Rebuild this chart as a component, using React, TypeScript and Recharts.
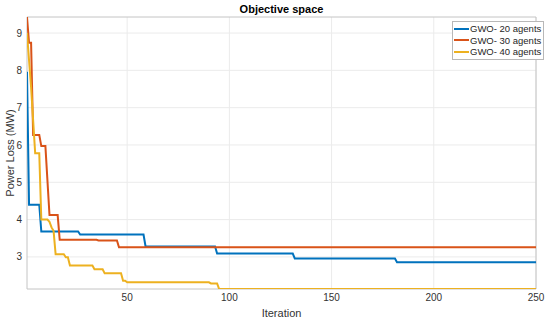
import { Legend, LineChart, Line, XAxis, YAxis, CartesianGrid, ReferenceArea } from 'recharts';

// Convergence curves (iteration -> best power loss in MW)
const iter20 = [1, 2, 7, 8, 26, 27, 58, 59, 93, 94, 131, 132, 181, 182, 250];
const loss20 = [7.96, 4.4, 4.4, 3.68, 3.68, 3.6, 3.6, 3.28, 3.28, 3.09, 3.09, 2.96, 2.96, 2.86, 2.86];

const iter30 = [1, 2, 3, 4, 7, 8, 10, 12, 16, 17, 35, 36, 45, 46, 250];
const loss30 = [9.43, 8.74, 8.74, 6.27, 6.27, 5.97, 5.97, 4.12, 4.12, 3.46, 3.46, 3.44, 3.44, 3.26, 3.26];

const iter40 = [1, 3, 5, 7, 8, 11, 12, 13, 14, 15, 19, 20, 21, 22, 33, 34, 38, 39, 47, 48, 49, 50, 90, 91, 94, 95, 250];
const loss40 = [9.0, 7.55, 5.78, 5.78, 4.0, 4.0, 3.94, 3.79, 3.7, 3.07, 3.07, 2.99, 2.99, 2.77, 2.77, 2.67, 2.67, 2.56, 2.56, 2.36, 2.36, 2.32, 2.32, 2.29, 2.29, 2.14, 2.14];

const xTicks = [50, 100, 150, 200, 250];
const yTicks = [3, 4, 5, 6, 7, 8, 9];

const series = [
  { name: 'GWO- 20 agents', color: '#0072BD', iters: iter20, values: loss20 },
  { name: 'GWO- 30 agents', color: '#D95319', iters: iter30, values: loss30 },
  { name: 'GWO- 40 agents', color: '#EDB120', iters: iter40, values: loss40 },
];

const FONT = '"Liberation Sans", Arial, sans-serif';
const GRID = '#ebebeb';
const FRAME = '#c4c4c4';
const TEXT = '#333';

const toRows = (iters: number[], values: number[]) => iters.map((it, i) => ({ iter: it, loss: values[i] }));

const renderLegend = () => (
  <div
    style={{
      background: '#fff',
      border: '1px solid #b8b8b8',
      padding: '1px 2px 1px 1px',
      fontFamily: FONT,
      fontSize: 9.5,
      color: '#262626',
      lineHeight: '11.5px',
    }}
  >
    {series.map((s) => (
      <div key={s.name} style={{ display: 'flex', alignItems: 'center' }}>
        <span style={{ width: 15, height: 2, background: s.color, marginRight: 1 }} />
        <span>{s.name}</span>
      </div>
    ))}
  </div>
);

export default function App() {
  return (
    <div style={{ position: 'absolute', left: 0, top: 0, width: 550, height: 322, background: '#fff' }}>
      <div
        style={{
          position: 'absolute',
          top: 3,
          left: 27,
          width: 509,
          textAlign: 'center',
          fontFamily: FONT,
          fontWeight: 'bold',
          fontSize: 11,
          color: '#000',
        }}
      >
        Objective space
      </div>
      <LineChart width={550} height={322} margin={{ top: 17, right: 14, bottom: 0, left: 0 }}>
        <CartesianGrid stroke={GRID} horizontalValues={yTicks} verticalValues={xTicks} />
        <XAxis
          type="number"
          dataKey="iter"
          domain={[1, 250]}
          ticks={xTicks}
          allowDataOverflow
          height={33}
          axisLine={false}
          tickLine={false}
          tickSize={3}
          tickMargin={2}
          tick={{ fontSize: 10, fill: TEXT, fontFamily: FONT }}
          label={{ value: 'Iteration', position: 'insideBottom', offset: 5, fontSize: 11, fill: TEXT, fontFamily: FONT }}
        />
        <YAxis
          type="number"
          domain={[2.14, 9.43]}
          ticks={yTicks}
          allowDataOverflow
          width={27}
          axisLine={false}
          tickLine={false}
          tickSize={3}
          tickMargin={2}
          tick={{ fontSize: 10, fill: TEXT, fontFamily: FONT }}
          label={{
            value: 'Power Loss (MW)',
            angle: -90,
            position: 'insideLeft',
            offset: 10,
            style: { textAnchor: 'middle' },
            fontSize: 11,
            fill: TEXT,
            fontFamily: FONT,
          }}
        />
        <ReferenceArea x1={1} x2={250} y1={2.14} y2={9.43} fill="none" stroke={FRAME} strokeWidth={1} />
        {series.map((s) => (
          <Line
            key={s.name}
            data={toRows(s.iters, s.values)}
            dataKey="loss"
            name={s.name}
            type="linear"
            stroke={s.color}
            strokeWidth={2}
            dot={false}
            activeDot={false}
            isAnimationActive={false}
          />
        ))}
        <Legend
          layout="horizontal"
          verticalAlign="middle"
          align="center"
          content={renderLegend}
          wrapperStyle={{ top: 21, left: 452, width: 'auto' }}
        />
      </LineChart>
    </div>
  );
}
